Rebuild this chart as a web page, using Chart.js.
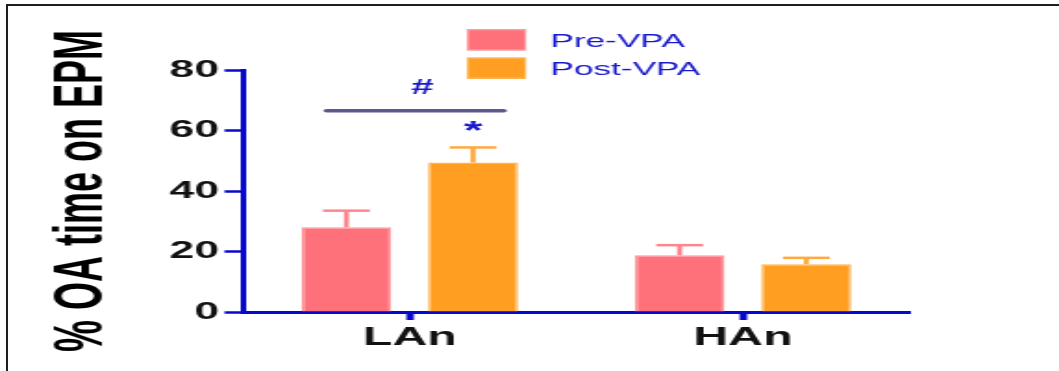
<!DOCTYPE html>
<html>
<head>
<meta charset="utf-8">
<title>% OA time on EPM</title>
<script src="https://cdn.jsdelivr.net/npm/chart.js@4.4.1/dist/chart.umd.min.js"></script>
<style>
  html, body { margin: 0; padding: 0; background: #fff; }
  #frame { position: relative; width: 1059px; height: 371px; overflow: hidden; background: #fff; }
  #frame .edge-top { position: absolute; left: 6px; top: 4px; right: 0; height: 2px; background: #1e1e1e; }
  #frame .edge-left { position: absolute; left: 6px; top: 4px; bottom: 0; width: 2px; background: #1e1e1e; }
  /* the plot is laid out narrow and widened horizontally */
  #plot { position: absolute; left: 0; top: 0; width: 572px; height: 371px;
          transform: scaleX(1.8514); transform-origin: 0 0; }
</style>
</head>
<body>
<div id="frame">
  <div id="plot"><canvas id="chart" width="572" height="371"></canvas></div>
  <div class="edge-top"></div>
  <div class="edge-left"></div>
</div>
<script>
// groups and series
const groups = ['LAn', 'HAn'];
const seriesNames = ['Pre-VPA', 'Post-VPA'];

// mean % open-arm time and SEM per group
const preMean = [28.0, 18.8];
const postMean = [49.4, 15.8];
const preSem = [5.5, 3.3];
const postSem = [5.0, 2.1];

// y axis ticks
const yTicks = [0, 20, 40, 60, 80];

// significance marks (y values) for the LAn group
const bracketLevel = 66.5;
const hashLevel = 74;
const starLevel = 61.5;

const FONT = '"Liberation Sans", Arial, Helvetica, sans-serif';
const AXIS_BLUE = '#0808cc';
const TEXT_BLUE = '#1818cc';

Chart.defaults.font.family = FONT;

// vertical error bars (upper half only) with a cap
const errorBars = {
  id: 'errorBars',
  afterDatasetsDraw(chart) {
    const { ctx, scales: { y } } = chart;
    chart.data.datasets.forEach((ds, i) => {
      const meta = chart.getDatasetMeta(i);
      meta.data.forEach((bar, j) => {
        const top = y.getPixelForValue(ds.data[j] + ds.sem[j]);
        const half = bar.width * 0.26;
        ctx.save();
        ctx.strokeStyle = ds.errorColor;
        ctx.lineWidth = 2.7;
        ctx.beginPath();
        ctx.moveTo(bar.x, bar.y);
        ctx.lineTo(bar.x, top);
        ctx.stroke();
        ctx.lineWidth = 2.5;
        ctx.beginPath();
        ctx.moveTo(bar.x - half, top);
        ctx.lineTo(bar.x + half, top);
        ctx.stroke();
        ctx.restore();
      });
    });
  }
};

// bracket with '#' between the LAn bars and '*' over the post bar
const sigMarks = {
  id: 'sigMarks',
  afterDatasetsDraw(chart) {
    const { ctx, scales: { y } } = chart;
    const a = chart.getDatasetMeta(0).data[0];
    const b = chart.getDatasetMeta(1).data[0];
    const ly = y.getPixelForValue(bracketLevel);
    ctx.save();
    ctx.strokeStyle = '#5a5a8e';
    ctx.lineWidth = 3.5;
    ctx.lineCap = 'round';
    ctx.beginPath();
    ctx.moveTo(a.x - a.width * 0.22, ly);
    ctx.lineTo(b.x + b.width * 0.34, ly);
    ctx.stroke();
    ctx.fillStyle = TEXT_BLUE;
    ctx.textAlign = 'center';
    ctx.textBaseline = 'middle';
    ctx.font = 'bold 22px ' + FONT;
    ctx.fillText('#', (a.x + b.x) / 2 + 6.7, y.getPixelForValue(hashLevel));
    ctx.font = 'bold 26px ' + FONT;
    ctx.fillText('*', b.x, y.getPixelForValue(starLevel) + 6);
    ctx.restore();
  }
};

// stacked legend built from the datasets
const boxLegend = {
  id: 'boxLegend',
  afterDraw(chart, args, o) {
    const ctx = chart.ctx;
    ctx.save();
    chart.data.datasets.forEach((ds, i) => {
      const top = o.y + i * o.rowGap;
      ctx.fillStyle = ds.borderColor;
      ctx.fillRect(o.x, top, o.boxW, o.boxH);
      ctx.fillStyle = ds.backgroundColor;
      ctx.fillRect(o.x + 1.2, top + 1.5, o.boxW - 2.4, o.boxH - 3);
      ctx.fillStyle = o.color;
      ctx.font = o.size + 'px ' + FONT;
      ctx.textAlign = 'left';
      ctx.textBaseline = 'alphabetic';
      ctx.fillText(ds.label, o.textX, top + o.boxH / 2 + o.size * 0.358);
    });
    ctx.restore();
  }
};

new Chart(document.getElementById('chart'), {
  type: 'bar',
  data: {
    labels: groups,
    datasets: [
      {
        label: seriesNames[0],
        data: preMean,
        sem: preSem,
        backgroundColor: '#ff717a',
        borderColor: '#ff979c',
        errorColor: '#ff858c',
        borderWidth: 1.5
      },
      {
        label: seriesNames[1],
        data: postMean,
        sem: postSem,
        backgroundColor: '#ff9e21',
        borderColor: '#ffb450',
        errorColor: '#ffaa3c',
        borderWidth: 1.5
      }
    ]
  },
  options: {
    responsive: false,
    animation: false,
    devicePixelRatio: 1,
    categoryPercentage: 0.76,
    barPercentage: 0.71,
    layout: { padding: { top: 70, right: 80.7, left: 0, bottom: 0 } },
    plugins: {
      legend: { display: false },
      tooltip: { enabled: false },
      boxLegend: { x: 252.2, y: 29, rowGap: 28.3, boxW: 32, boxH: 21.7, textX: 297.3, size: 19, color: TEXT_BLUE }
    },
    scales: {
      x: {
        z: 1,
        grid: {
          drawOnChartArea: false,
          drawTicks: true,
          offset: false,
          tickLength: 8,
          tickWidth: 4,
          tickColor: AXIS_BLUE
        },
        border: { display: true, color: AXIS_BLUE, width: 3 },
        ticks: { color: '#111', font: { size: 26, weight: 'bold' }, padding: 2 },
        afterFit(scale) { scale.height = 59; }
      },
      y: {
        min: 0,
        max: 80,
        afterBuildTicks(scale) { scale.ticks = yTicks.map(v => ({ value: v })); },
        grid: {
          drawOnChartArea: false,
          drawTicks: true,
          tickLength: 10,
          tickWidth: 2.5,
          tickColor: AXIS_BLUE
        },
        border: { display: true, color: AXIS_BLUE, width: 3 },
        ticks: { color: '#111', font: { size: 24, weight: 'bold' }, padding: 3 },
        title: {
          display: true,
          text: '% OA time on EPM',
          color: '#000',
          font: { size: 36, weight: 'bold' },
          padding: { top: 23, bottom: 0 }
        },
        afterFit(scale) { scale.width = 131.3; }
      }
    }
  },
  plugins: [errorBars, sigMarks, boxLegend]
});
</script>
</body>
</html>
